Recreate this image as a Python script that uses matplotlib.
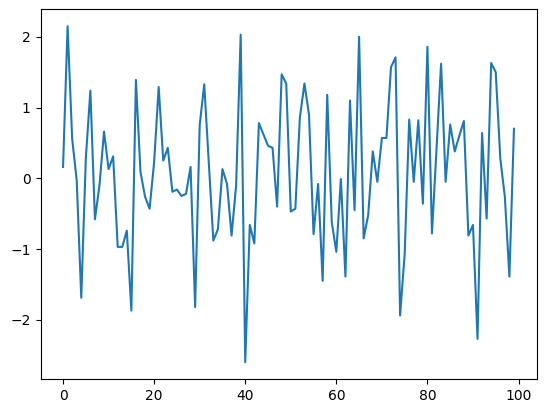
import matplotlib
matplotlib.use("Agg")
import matplotlib.pyplot as plt

# values, index 0..99
values_0_24 = [0.16, 2.15, 0.56, -0.03, -1.69, 0.28, 1.24, -0.58, -0.10, 0.66,
               0.13, 0.31, -0.97, -0.97, -0.74, -1.87, 1.39, 0.09, -0.26, -0.43,
               0.23, 1.29, 0.25, 0.43, -0.19]
values_25_49 = [-0.16, -0.25, -0.22, 0.16, -1.82, 0.75, 1.33, 0.22, -0.88, -0.72,
                0.13, -0.08, -0.81, -0.10, 2.03, -2.60, -0.66, -0.92, 0.78, 0.62,
                0.46, 0.43, -0.40, 1.47, 1.34]
values_50_74 = [-0.47, -0.43, 0.86, 1.34, 0.90, -0.79, -0.08, -1.45, 1.18, -0.62,
                -1.04, -0.01, -1.39, 1.10, -0.45, 2.00, -0.85, -0.52, 0.38, -0.05,
                0.57, 0.57, 1.57, 1.71, -1.94]
values_75_99 = [-1.08, 0.83, -0.05, 0.82, -0.36, 1.86, -0.78, 0.42, 1.62, -0.05,
                0.76, 0.38, 0.60, 0.81, -0.81, -0.66, -2.27, 0.64, -0.57, 1.63,
                1.50, 0.28, -0.26, -1.39, 0.70]

values = values_0_24 + values_25_49 + values_50_74 + values_75_99

fig = plt.figure(figsize=(5.46, 4.13), dpi=100)
ax = fig.add_axes([40.5 / 546, 34 / 413, 496 / 546, 369.6 / 413])
ax.plot(values)

fig.savefig("out.png", dpi=100)
